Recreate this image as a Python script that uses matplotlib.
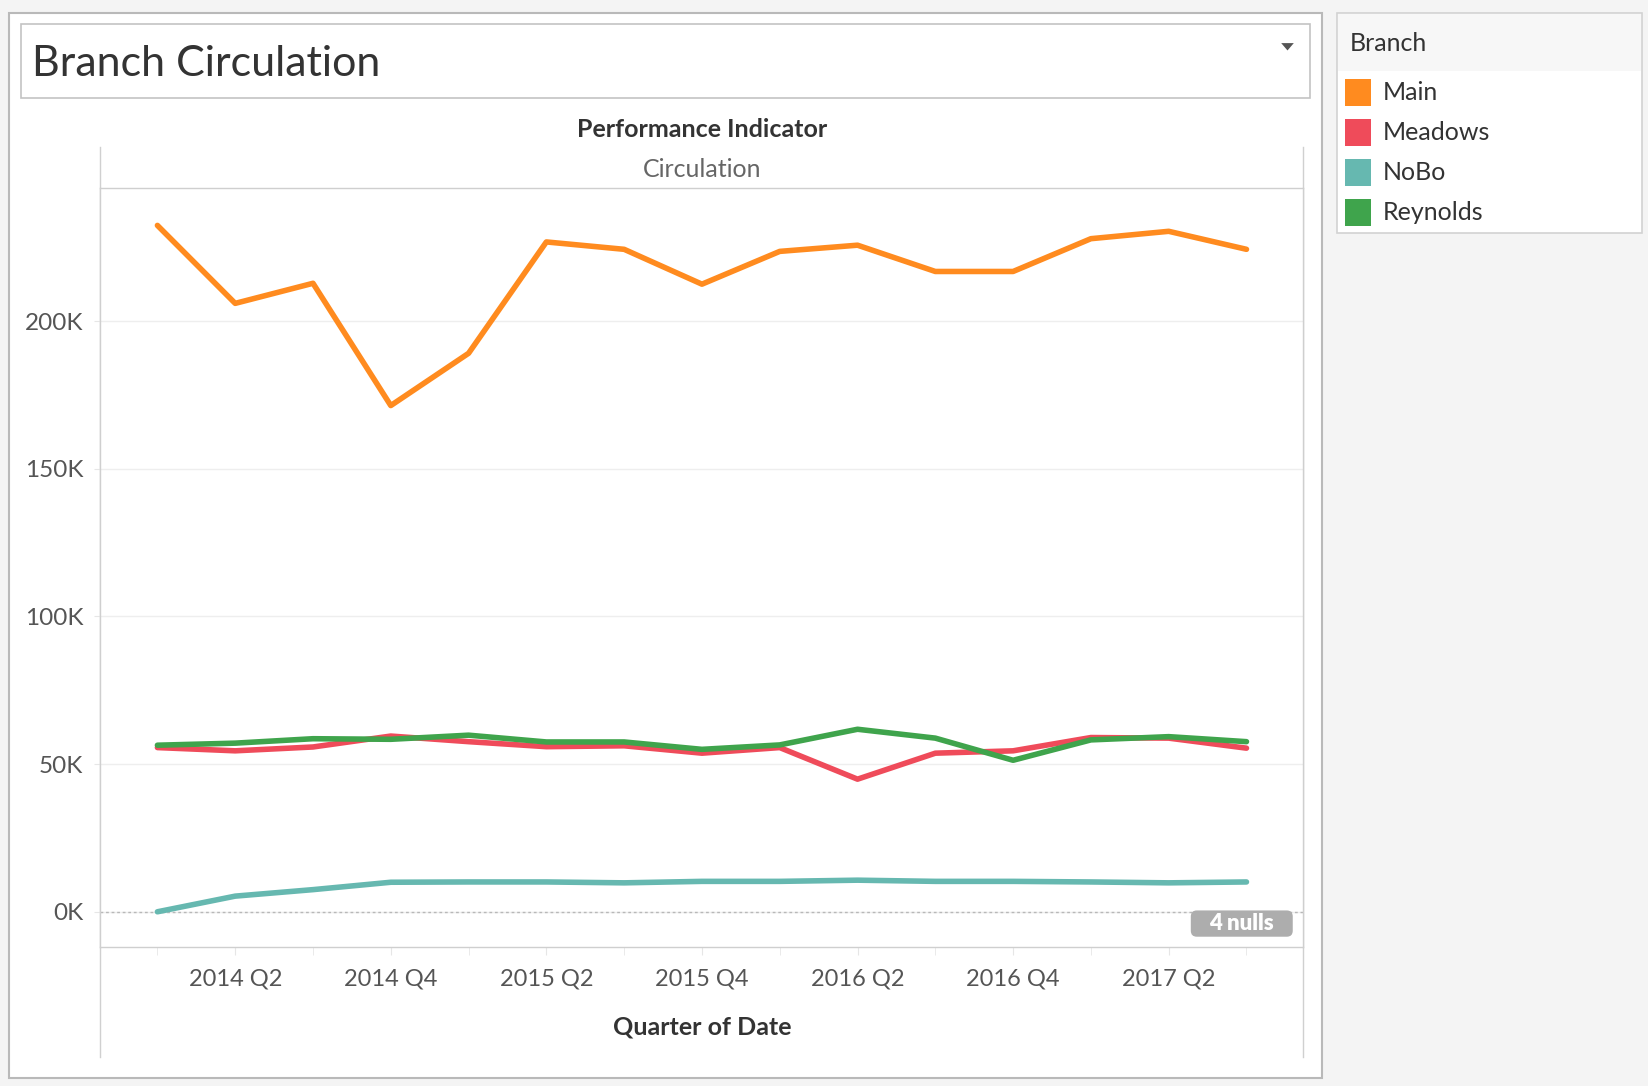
import numpy as np
import matplotlib.pyplot as plt
from matplotlib.patches import Rectangle, Polygon, FancyBboxPatch
from matplotlib.lines import Line2D

plt.rcParams['font.family'] = ['Lato', 'DejaVu Sans']

# data (circulation per quarter)
quarters = ['2014 Q1', '2014 Q2', '2014 Q3', '2014 Q4',
            '2015 Q1', '2015 Q2', '2015 Q3', '2015 Q4',
            '2016 Q1', '2016 Q2', '2016 Q3', '2016 Q4',
            '2017 Q1', '2017 Q2', '2017 Q3']
main = [232400, 206000, 212800, 171400, 189100, 226800, 224300, 212500,
        223600, 225700, 216800, 216800, 227900, 230400, 224300]
meadows = [55600, 54500, 55800, 59500, 57600, 55900, 56200, 53700,
           55600, 44900, 53700, 54500, 59000, 58800, 55400]
nobo = [0, 5300, 7500, 10000, 10100, 10100, 9800, 10300,
        10300, 10700, 10300, 10300, 10100, 9800, 10100]
reynolds = [56400, 57100, 58600, 58400, 59800, 57500, 57500, 55000,
            56500, 61800, 58800, 51300, 58200, 59300, 57600]

branches = ['Main', 'Meadows', 'NoBo', 'Reynolds']
colors = ['#ff8b1f', '#ef4b5a', '#66b8b0', '#3fa44c']
series = [main, meadows, nobo, reynolds]
draw_order = [0, 2, 3, 1]  # Meadows drawn last (sits on top)

yticks = [0, 50000, 100000, 150000, 200000]
ylabels = ['0K', '50K', '100K', '150K', '200K']

# layout helpers (reference layout units -> figure fraction)
W, H = 1568, 1033
def fx(x):
    return x / W
def fy(y):
    return 1 - y / H

fig = plt.figure(figsize=(16.48, 10.86), dpi=100)
fig.patch.set_facecolor('#f4f4f4')

# worksheet panel
fig.patches.append(Rectangle((fx(9), fy(1025)), fx(1258) - fx(9), fy(12) - fy(1025),
                             transform=fig.transFigure, fc='white', ec='#b9b9b9', lw=1.5, zorder=0))
# title box
fig.patches.append(Rectangle((fx(20), fy(93)), fx(1246) - fx(20), fy(23) - fy(93),
                             transform=fig.transFigure, fc='white', ec='#c3c3c3', lw=1.2, zorder=0))
fig.text(fx(30), fy(61), 'Branch Circulation', fontsize=31, va='center', ha='left',
         color='#333333')
fig.patches.append(Polygon([(fx(1219), fy(41)), (fx(1231), fy(41)), (fx(1225), fy(48))],
                           closed=True, transform=fig.transFigure, fc='#555555', ec='none'))

# headers
fig.text(fx(668), fy(123), 'Performance Indicator', fontsize=18, fontweight='bold',
         ha='center', va='center', color='#333333')
fig.text(fx(668), fy(161), 'Circulation', fontsize=18, ha='center', va='center',
         color='#666666')
fig.text(fx(668), fy(977), 'Quarter of Date', fontsize=18, fontweight='bold',
         ha='center', va='center', color='#333333')

# long vertical pane borders
for xv in (95, 1240):
    fig.add_artist(Line2D([fx(xv), fx(xv)], [fy(140), fy(1005)], transform=fig.transFigure,
                          color='#d0d0d0', lw=1))

ax = fig.add_axes([fx(95), fy(901), fx(1240) - fx(95), fy(179) - fy(901)])
ax.set_zorder(2)
x = np.arange(len(quarters))
for i in draw_order:
    ax.plot(x, series[i], color=colors[i], lw=4.0, solid_capstyle='round',
            solid_joinstyle='round', zorder=3 + i)

ax.set_xlim(-0.74, 14.73)
ax.set_ylim(-12000, 245000)
ax.set_yticks(yticks)
ax.set_yticklabels(ylabels)
ax.set_xticks(x[1::2])
ax.set_xticklabels(quarters[1::2])
ax.set_xticks(x, minor=True)
ax.grid(axis='y', color='#eeeeee', lw=1)
ax.axhline(0, color='#b8b8b8', ls=(0, (2, 2)), lw=1, zorder=2)
ax.set_axisbelow(True)
for s in ax.spines.values():
    s.set_color('#cfcfcf')
    s.set_linewidth(1)
ax.tick_params(axis='x', which='both', length=6, color='#e6e6e6', direction='out')
ax.tick_params(axis='x', which='major', labelsize=17, labelcolor='#555555', pad=9)
ax.tick_params(axis='y', length=4, color='#e6e6e6', labelsize=17.5, labelcolor='#555555', pad=8)

# null indicator badge (sized in inches so corners stay round)
sx = 16.48 / W
sy = 10.86 / H
badge = FancyBboxPatch((1133 * sx, (H - 891) * sy), 97 * sx, 25 * sy,
                       boxstyle='round,pad=0,rounding_size=0.06',
                       transform=fig.dpi_scale_trans, fc='#adadad', ec='none', zorder=10)
fig.patches.append(badge)
fig.text(fx(1181), fy(878), '4 nulls', fontsize=16, fontweight='heavy', color='white',
         ha='center', va='center', zorder=11)

# legend
fig.patches.append(Rectangle((fx(1272), fy(222)), fx(1562) - fx(1272), fy(12) - fy(222),
                             transform=fig.transFigure, fc='white', ec='#d2d2d2', lw=1.2, zorder=0))
fig.patches.append(Rectangle((fx(1273), fy(68)), fx(1561) - fx(1273), fy(13) - fy(68),
                             transform=fig.transFigure, fc='#f7f7f7', ec='none', zorder=0))
fig.text(fx(1284), fy(41), 'Branch', fontsize=18, va='center', color='#333333')
for k, (name, c) in enumerate(zip(branches, colors)):
    yc = 88 + 38 * k
    fig.patches.append(Rectangle((fx(1280), fy(yc + 12.5)), fx(1304) - fx(1280), fy(yc - 12.5) - fy(yc + 12.5),
                                 transform=fig.transFigure, fc=c, ec='none'))
    fig.text(fx(1316), fy(yc), name, fontsize=18, va='center', color='#333333')

fig.savefig('out.png', dpi=100, facecolor=fig.get_facecolor())
